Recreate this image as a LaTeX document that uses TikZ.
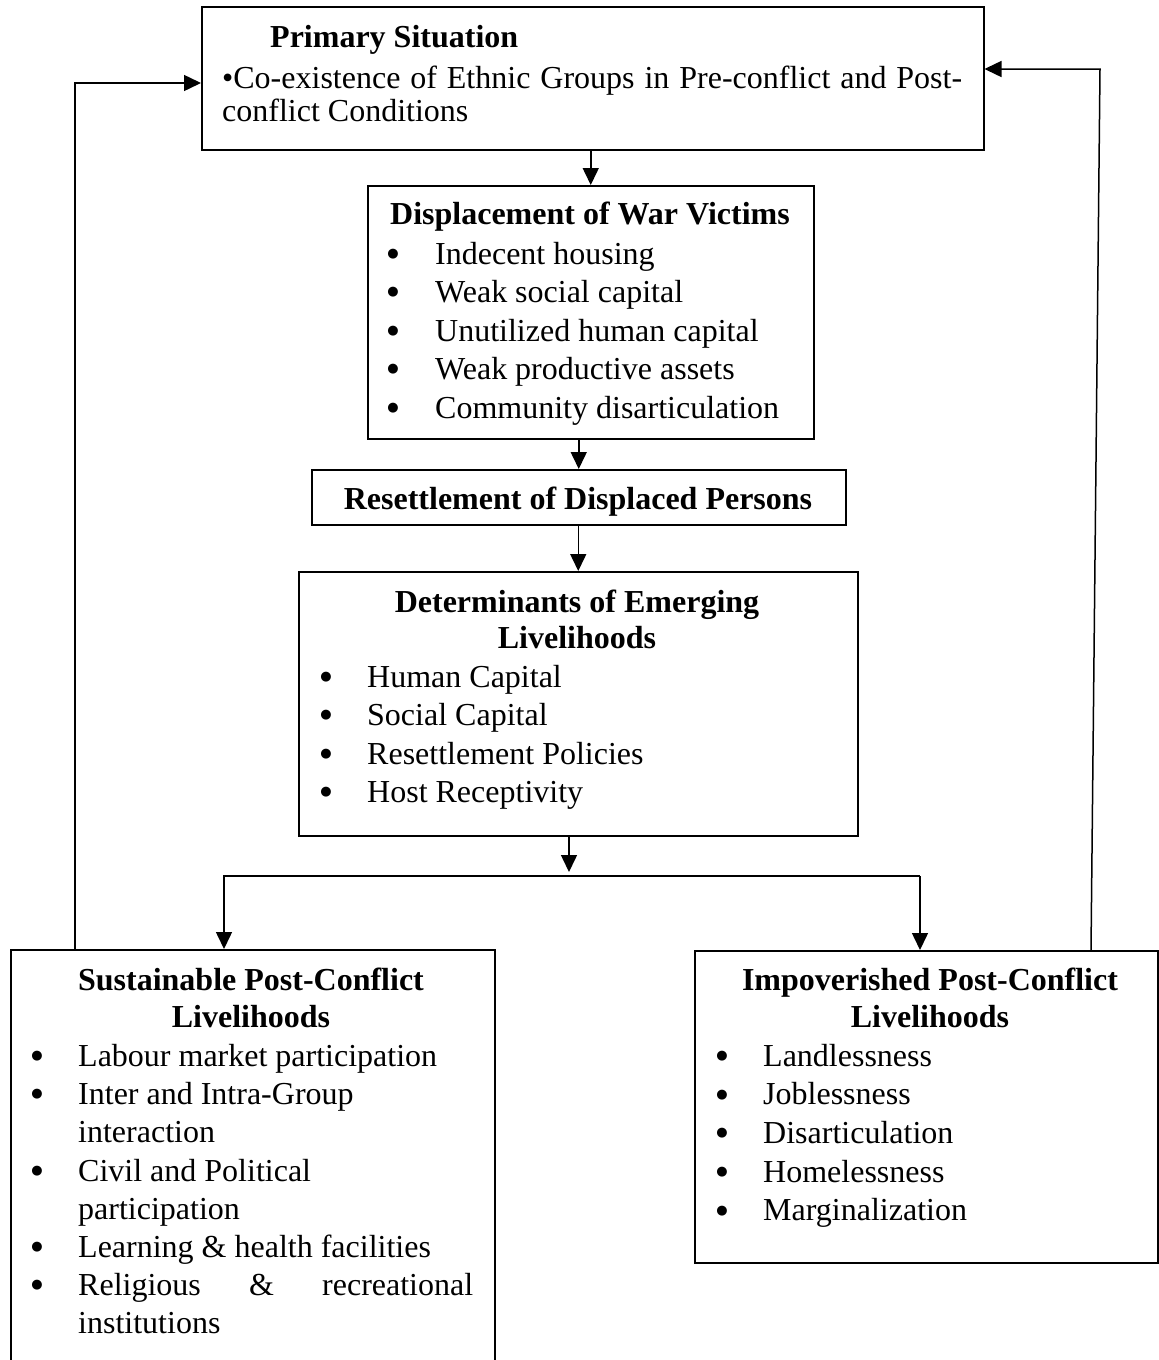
\documentclass[tikz,border=0pt]{standalone}
\usepackage{fontspec}
\setmainfont{Liberation Serif}
\newfontfamily\symfont{DejaVu Sans}
\usetikzlibrary{arrows.meta,calc}
\begin{document}
\begin{tikzpicture}[x=1pt,y=-1pt,
  box/.style={draw, line width=1.5pt, inner sep=0pt, anchor=north west},
  txt/.style={inner sep=0pt, anchor=base west, font=\fontsize{32}{38}\selectfont},
  ttl/.style={inner sep=0pt, anchor=base, font=\fontsize{32}{38}\selectfont\bfseries},
  bul/.style={inner sep=0pt, anchor=center, font=\symfont\fontsize{13}{13}\selectfont},
  arr/.style={line width=1.5pt, -{Triangle[length=17pt,width=16pt]}},
  ln/.style={line width=1.5pt}]
\useasboundingbox (0,0) rectangle (1159,1360);
\clip (0,0) rectangle (1159,1360);

% boxes
\node[box, minimum width=782pt, minimum height=143pt] (top) at (201,6) {};
\node[box, minimum width=446pt, minimum height=253pt] (disp) at (367,185) {};
\node[box, minimum width=534pt, minimum height=55pt] (res) at (311,469) {};
\node[box, minimum width=559pt, minimum height=264pt] (det) at (298,571) {};
\node[box, minimum width=484pt, minimum height=460pt] (sus) at (10,949) {};
\node[box, minimum width=463pt, minimum height=312pt] (imp) at (694,950) {};

% primary situation
\node[ttl, anchor=base west] (pt) at (270,47) {Primary Situation};
\node[txt] (p1) at (222,88) {\makebox[740pt][s]{•Co-existence of Ethnic Groups in Pre-conflict and Post-}};
\node[txt] (p2) at (222,121) {conflict Conditions};

% displacement
\node[ttl] (dt) at (590,224) {Displacement of War Victims};
\foreach \t [count=\i] in {Indecent housing, Weak social capital, Unutilized human capital, Weak productive assets, Community disarticulation}{
  \node[txt] (d\i) at (435,{225.5+38.5*\i}) {\t};
  \node[bul] (db\i) at (393,{215.5+38.5*\i}) {●};
}

% resettlement
\node[ttl] (rt) at (578,509) {Resettlement of Displaced Persons};

% determinants
\node[ttl] (dt1) at (577,612) {Determinants of Emerging};
\node[ttl] (dt2) at (577,648) {Livelihoods};
\foreach \t [count=\i] in {Human Capital, Social Capital, Resettlement Policies, Host Receptivity}{
  \node[txt] (e\i) at (367,{648.5+38.5*\i}) {\t};
  \node[bul] (eb\i) at (326,{638.5+38.5*\i}) {●};
}

% sustainable
\node[ttl] (st1) at (251,990) {Sustainable Post-Conflict};
\node[ttl] (st2) at (251,1027) {Livelihoods};
\node[txt] (s1) at (78,1066) {Labour market participation};
\node[txt] (s2) at (78,1104) {Inter and Intra-Group};
\node[txt] (s3) at (78,1142) {interaction};
\node[txt] (s4) at (78,1181) {Civil and Political};
\node[txt] (s5) at (78,1219) {participation};
\node[txt] (s6) at (78,1257) {Learning \& health facilities};
\node[txt] (s7) at (78,1295) {\makebox[395pt][s]{Religious \& recreational}};
\node[txt] (s8) at (78,1333) {institutions};
\foreach \y [count=\i] in {1066,1104,1181,1257,1295}{
  \node[bul] (sb\i) at (37,{\y-10}) {●};
}

% impoverished
\node[ttl] (it1) at (930,990) {Impoverished Post-Conflict};
\node[ttl] (it2) at (930,1027) {Livelihoods};
\foreach \t [count=\i] in {Landlessness, Joblessness, Disarticulation, Homelessness, Marginalization}{
  \node[txt] (m\i) at (763,{1027.3+38.7*\i}) {\t};
  \node[bul] (mb\i) at (722,{1017.3+38.7*\i}) {●};
}

% connectors
\coordinate (j) at (569,876);
\coordinate (jl) at (224,876);
\coordinate (jr) at (920,876);
\coordinate (fl) at (75,83);
\coordinate (frt) at (1100,69);
\coordinate (frb) at (1091,950);

\draw[arr] (top.south -| disp.north) -- (disp.north);
\draw[arr] (disp.south -| res.north) -- (res.north);
\draw[arr] (res.south -| det.north) -- (det.north);
\draw[arr] (det.south -| j) -- ($(j)+(0,-4)$);
\draw[arr] (jr) -- (jl) -- (jl |- sus.north);
\draw[arr] (jr) -- (jr |- imp.north);
\draw[arr] (fl |- sus.north) -- (fl) -- (fl -| top.west);
\draw[arr] (frb |- imp.north) -- (frt) -- (frt -| top.east);
\end{tikzpicture}
\end{document}
